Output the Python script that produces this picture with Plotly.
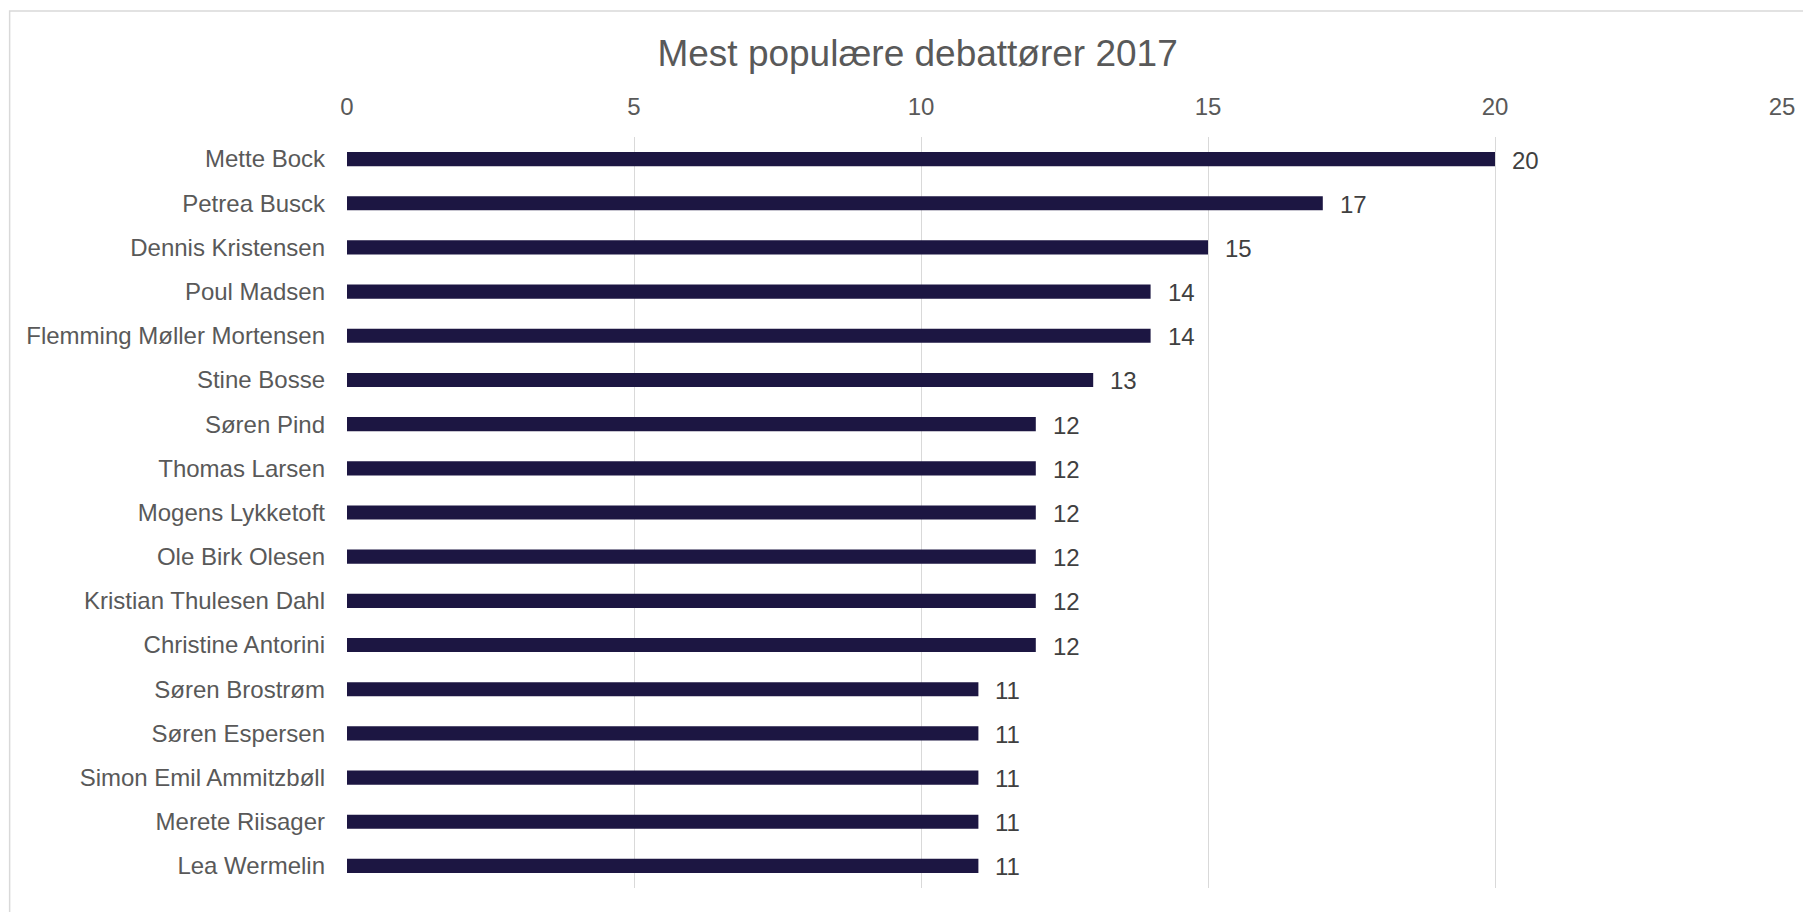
import plotly.graph_objects as go

names = ["Mette Bock", "Petrea Busck", "Dennis Kristensen", "Poul Madsen",
         "Flemming Møller Mortensen", "Stine Bosse", "Søren Pind", "Thomas Larsen",
         "Mogens Lykketoft", "Ole Birk Olesen", "Kristian Thulesen Dahl",
         "Christine Antorini", "Søren Brostrøm", "Søren Espersen",
         "Simon Emil Ammitzbøll", "Merete Riisager", "Lea Wermelin"]
values = [20, 17, 15, 14, 14, 13, 12, 12, 12, 12, 12, 12, 11, 11, 11, 11, 11]
x_ticks = [0, 5, 10, 15, 20, 25]
title = "Mest populære debattører 2017"

FONT = "Liberation Sans"
BAR = "#1c1642"

fig = go.Figure()
fig.add_trace(go.Bar(
    x=values, y=names, orientation="h",
    marker=dict(color=BAR, line=dict(width=0)),
    width=0.32, showlegend=False, hoverinfo="x+y",
))

for n, v in zip(names, values):
    fig.add_annotation(x=v, y=n, text=str(v), showarrow=False,
                       xanchor="left", yanchor="middle", xshift=15, yshift=-1,
                       font=dict(family=FONT, size=24, color="#404040"))

fig.update_layout(
    width=1803, height=904,
    paper_bgcolor="white", plot_bgcolor="white",
    margin=dict(l=338.5, r=29, t=129, b=24),
    title=dict(text=title, x=0.5045, xanchor="center", y=0.950, yanchor="middle",
               font=dict(family=FONT, size=37, color="#595959")),
    xaxis=dict(side="top", range=[0, 25], tickvals=x_ticks,
               showgrid=True, gridcolor="#d9d9d9", gridwidth=1,
               zeroline=False, showline=False, ticks="",
               ticklabelstandoff=16,
               tickfont=dict(family=FONT, size=24, color="#595959")),
    yaxis=dict(autorange="reversed", showgrid=False, zeroline=False,
               showline=False, ticks="", ticklabelstandoff=21,
               tickfont=dict(family=FONT, size=24, color="#595959")),
    shapes=[dict(type="rect", xref="paper", yref="paper",
                 x0=-0.2351, x1=1.03, y0=-0.06, y1=1.1678,
                 line=dict(color="#d9d9d9", width=1.5), fillcolor="rgba(0,0,0,0)",
                 layer="below")],
)

fig.write_html("out.html")
